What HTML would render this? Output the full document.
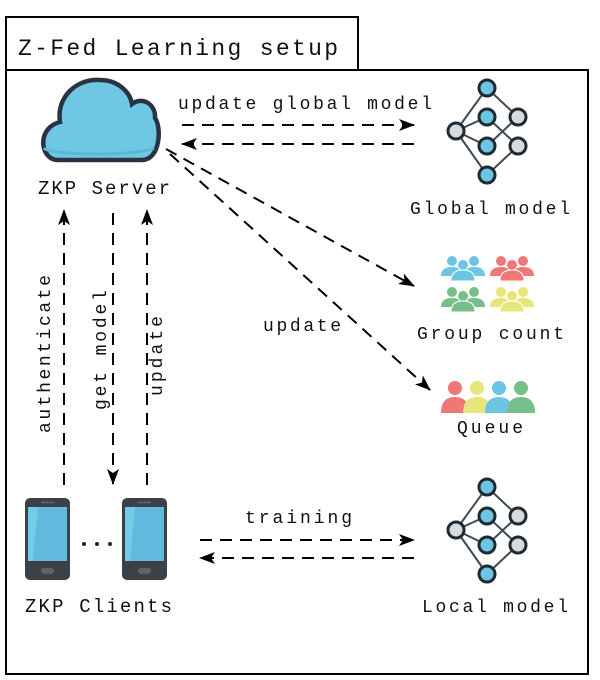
<!DOCTYPE html>
<html><head><meta charset="utf-8"><style>
html,body{margin:0;padding:0;background:#fff;}
svg{display:block;}
</style></head><body>
<svg width="600" height="680" viewBox="0 0 600 680" xmlns="http://www.w3.org/2000/svg" font-family="'Liberation Mono', 'DejaVu Sans Mono', monospace" fill="#111">
<defs>
<marker id="ah" viewBox="0 0 16 12" refX="15" refY="6" markerWidth="16" markerHeight="12" markerUnits="userSpaceOnUse" orient="auto">
<path d="M0,0 L16,6 L0,12 L4,6 Z" fill="#000"/>
</marker>
<g id="net">
<g stroke="#3d4a55" stroke-width="2">
<line x1="0" y1="43" x2="31" y2="0"/><line x1="0" y1="43" x2="31" y2="29"/><line x1="0" y1="43" x2="31" y2="58"/><line x1="0" y1="43" x2="31" y2="87"/>
<line x1="31" y1="0" x2="62" y2="29"/><line x1="31" y1="29" x2="62" y2="58"/><line x1="31" y1="58" x2="62" y2="29"/><line x1="31" y1="87" x2="62" y2="58"/>
</g>
<g stroke="#1f2a33" stroke-width="3">
<circle cx="31" cy="0" r="8" fill="#6cc5e3"/><circle cx="31" cy="29" r="8" fill="#6cc5e3"/><circle cx="31" cy="58" r="8" fill="#6cc5e3"/><circle cx="31" cy="87" r="8" fill="#6cc5e3"/>
<circle cx="0" cy="43" r="8" fill="#d9dadb"/><circle cx="62" cy="29" r="8" fill="#d9dadb"/><circle cx="62" cy="58" r="8" fill="#d9dadb"/>
</g>
</g>
<g id="grp">
<circle cx="-11" cy="4" r="5"/><circle cx="11" cy="4" r="5"/>
<path d="M-22,19 q0,-9 11,-9 q11,0 11,9 z"/><path d="M0,19 q0,-9 11,-9 q11,0 11,9 z"/>
<circle cx="0" cy="8" r="5.5" stroke="#fff" stroke-width="1"/>
<path d="M-12,24 q0,-11 12,-11 q12,0 12,11 z" stroke="#fff" stroke-width="1"/>
</g>
<g id="phone">
<rect x="0" y="0" width="45" height="82" rx="5" fill="#3b4146"/>
<rect x="3" y="9" width="39" height="54" fill="#5fbadd"/>
<path d="M3,9 h10 l-5,54 h-5 z" fill="#74cbe8"/>
<line x1="16" y1="4.5" x2="29" y2="4.5" stroke="#666" stroke-width="1.5"/>
<rect x="16" y="70" width="13" height="6" rx="3" fill="#5d6469"/>
</g>
</defs>

<rect x="6" y="17" width="352" height="53" fill="#fff" stroke="#000" stroke-width="2"/>
<text x="18" y="55" font-size="23" textLength="320" lengthAdjust="spacing">Z-Fed Learning setup</text>
<rect x="6" y="70" width="582" height="604" fill="none" stroke="#000" stroke-width="2"/>

<!-- cloud -->
<path d="M58,160 C40,160 36,128 60,122 C56,96 78,78 100,80 C118,80 130,92 132,104 C142,96 156,104 155,118 C162,128 160,160 142,160 Z" fill="#6ec7e3" stroke="#2a3440" stroke-width="4.5"/>
<path d="M44,148 C50,156 140,156 154,148" fill="none" stroke="#5ab8d6" stroke-width="3"/>
<text x="38" y="194" font-size="19" textLength="132" lengthAdjust="spacing">ZKP Server</text>

<text x="178" y="109" font-size="18" textLength="254" lengthAdjust="spacing">update global model</text>
<g stroke="#000" stroke-width="2" stroke-dasharray="12,8" fill="none">
<line x1="182" y1="125" x2="414" y2="125" marker-end="url(#ah)"/>
<line x1="414" y1="144" x2="182" y2="144" marker-end="url(#ah)"/>
<line x1="166" y1="149" x2="414" y2="286" marker-end="url(#ah)"/>
<line x1="170" y1="154" x2="430" y2="390" marker-end="url(#ah)"/>
<line x1="64" y1="485" x2="64" y2="210" marker-end="url(#ah)"/>
<line x1="113" y1="213" x2="113" y2="484" marker-end="url(#ah)"/>
<line x1="147" y1="485" x2="147" y2="210" marker-end="url(#ah)"/>
<line x1="200" y1="540" x2="414" y2="540" marker-end="url(#ah)"/>
<line x1="414" y1="558" x2="200" y2="558" marker-end="url(#ah)"/>
</g>
<text x="263" y="331" font-size="18" textLength="78" lengthAdjust="spacing">update</text>

<use href="#net" x="456" y="88"/>
<text x="410" y="214" font-size="18" textLength="160" lengthAdjust="spacing">Global model</text>

<use href="#grp" x="463" y="257" fill="#6cc5e3"/>
<use href="#grp" x="512" y="257" fill="#ef7778"/>
<use href="#grp" x="463" y="288" fill="#77be8a"/>
<use href="#grp" x="512" y="288" fill="#e8e57b"/>
<text x="417" y="339" font-size="18" textLength="147" lengthAdjust="spacing">Group count</text>

<g>
<circle cx="455" cy="388" r="7" fill="#ef7778"/><path d="M441,413 q0,-16 14,-16 q14,0 14,16 z" fill="#ef7778"/>
<circle cx="477" cy="388" r="7" fill="#e8e57b"/><path d="M463,413 q0,-16 14,-16 q14,0 14,16 z" fill="#e8e57b"/>
<circle cx="499" cy="388" r="7" fill="#6cc5e3"/><path d="M485,413 q0,-16 14,-16 q14,0 14,16 z" fill="#6cc5e3"/>
<circle cx="521" cy="388" r="7" fill="#77be8a"/><path d="M507,413 q0,-16 14,-16 q14,0 14,16 z" fill="#77be8a"/>
</g>
<text x="457" y="433" font-size="18" textLength="66" lengthAdjust="spacing">Queue</text>

<text transform="translate(50,433) rotate(-90)" font-size="18" textLength="158" lengthAdjust="spacing">authenticate</text>
<text transform="translate(106,410) rotate(-90)" font-size="18" textLength="120" lengthAdjust="spacing">get model</text>
<text transform="translate(162,396) rotate(-90)" font-size="18" textLength="80" lengthAdjust="spacing">update</text>

<use href="#phone" x="25" y="498"/>
<use href="#phone" x="122" y="498"/>
<circle cx="84" cy="544" r="2" fill="#222"/><circle cx="97" cy="544" r="2" fill="#222"/><circle cx="110" cy="544" r="2" fill="#222"/>
<text x="25" y="612" font-size="19" textLength="147" lengthAdjust="spacing">ZKP Clients</text>

<text x="245" y="523" font-size="18" textLength="107" lengthAdjust="spacing">training</text>

<use href="#net" x="456" y="487"/>
<text x="422" y="612" font-size="18" textLength="146" lengthAdjust="spacing">Local model</text>
</svg>
</body></html>
